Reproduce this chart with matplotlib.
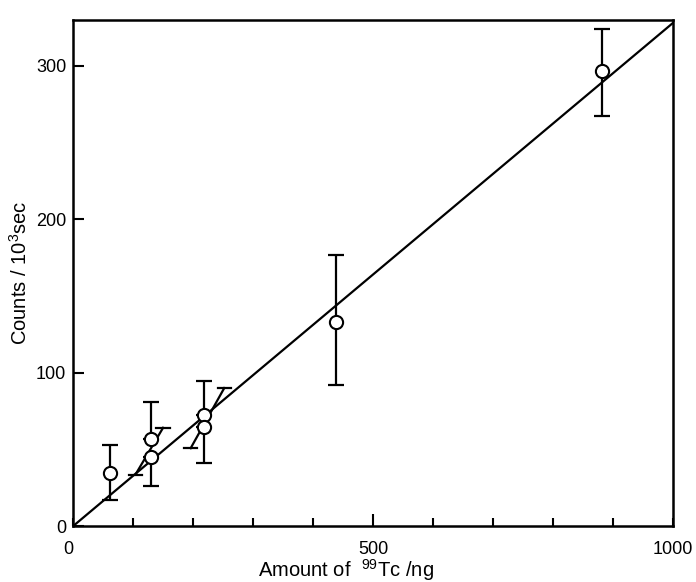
import matplotlib
matplotlib.use("Agg")
import matplotlib.pyplot as plt
import numpy as np

# --- data ---
amount_ng = [62, 130, 130, 219, 219, 439, 881]
counts = [34.8, 56.6, 45.2, 72.2, 64.6, 133, 296.5]
err_low = [16.9, None, 26.3, None, 41.4, 91.7, 267]
err_high = [52.7, 80.8, None, 94.6, None, 176.6, 324]

# slanted bars drawn along the calibration line
slant_x0 = [104, 196]
slant_y0 = [33.6, 50.8]
slant_x1 = [150, 252]
slant_y1 = [64.1, 90.0]

fit_x = [0, 1000]
fit_y = [0, 328]

x_ticks = [0, 100, 200, 300, 400, 500, 600, 700, 800, 900, 1000]
x_labels = ["0", "", "", "", "", "500", "", "", "", "", "1000"]
y_ticks = [0, 100, 200, 300]
y_labels = ["0", "100", "200", "300"]

plt.rcParams['font.family'] = ['Liberation Sans', 'DejaVu Sans']
plt.rcParams['mathtext.default'] = 'regular'

fig = plt.figure(figsize=(6.96, 5.82), dpi=100)
ax = fig.add_axes([0.105, 0.096, 0.862, 0.870])

lw = 1.6
ax.plot(fit_x, fit_y, color='black', lw=lw, zorder=2)

# error bars
for x, y, lo, hi in zip(amount_ng, counts, err_low, err_high):
    lower = y - lo if lo is not None else 0
    upper = hi - y if hi is not None else 0
    ax.errorbar([x], [y], yerr=[[lower], [upper]], fmt='none', ecolor='black',
                elinewidth=lw, capsize=6, capthick=lw, zorder=3)

ax.plot(amount_ng, counts, linestyle='none', marker='o', markersize=9.5,
        markerfacecolor='white', markeredgecolor='black', markeredgewidth=1.5, zorder=4)

cap_half = 11
for x0, y0, x1, y1 in zip(slant_x0, slant_y0, slant_x1, slant_y1):
    ax.plot([x0, x1], [y0, y1], color='black', lw=lw, zorder=3)
    ax.plot([x0 - cap_half, x0 + cap_half], [y0, y0], color='black', lw=lw, zorder=3)
    ax.plot([x1 - cap_half, x1 + cap_half], [y1, y1], color='black', lw=lw, zorder=3)

ax.set_xlim(0, 1000)
ax.set_ylim(0, 330)

ax.set_xticks(x_ticks)
ax.set_xticklabels(x_labels)
ax.set_yticks(y_ticks)
ax.set_yticklabels(y_labels)

ax.tick_params(axis='x', direction='in', length=6, width=1.5, labelsize=13, pad=11)
ax.tick_params(axis='y', direction='in', length=8, width=1.5, labelsize=13, pad=5)
ax.xaxis.get_major_ticks()[5].tick1line.set_markersize(9)
ax.xaxis.get_major_ticks()[0].label1.set_horizontalalignment('right')

for s in ax.spines.values():
    s.set_linewidth(1.8)

ax.set_xlabel("Amount of  $^{99}$Tc /ng", fontsize=14.5, labelpad=-1)
ax.xaxis.label.set_x(0.455)
ax.set_ylabel("Counts / 10$^{3}$sec", fontsize=14.5, labelpad=4)

fig.savefig("out.png", dpi=100)
